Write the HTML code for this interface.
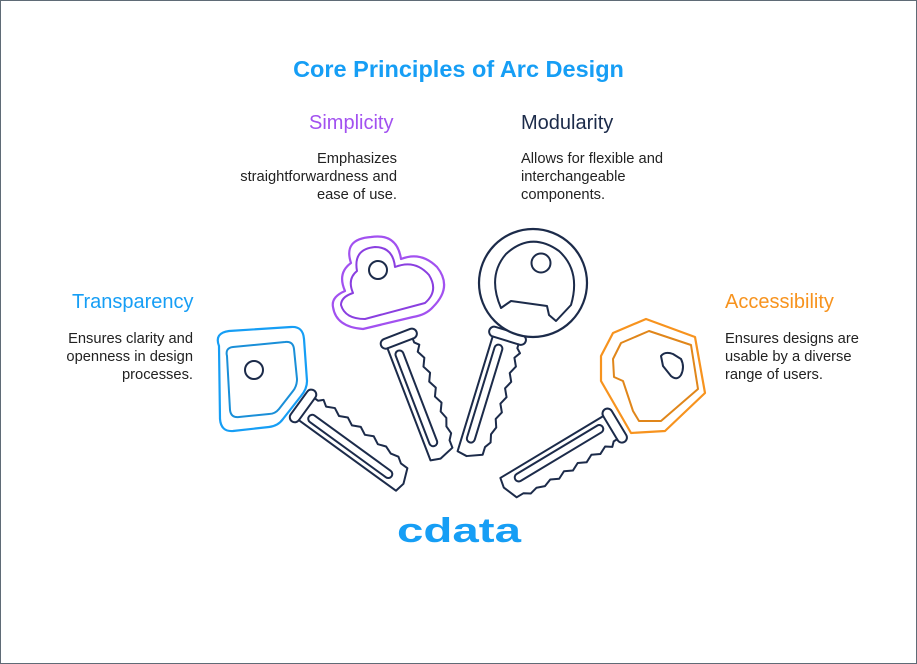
<!DOCTYPE html>
<html><head><meta charset="utf-8"><style>
html,body{margin:0;padding:0;background:#fff;}
#c{position:relative;width:915px;height:662px;border:1px solid #5f6b76;overflow:hidden;font-family:"Liberation Sans",Arial,sans-serif;}
.t{position:absolute;font-size:14.7px;line-height:18px;color:#222;}
.h{position:absolute;font-size:20px;}
</style></head><body><div id="c">
<div style="position:absolute;left:0;width:915px;top:55px;text-align:center;font-size:23.5px;font-weight:bold;color:#169ef5;">Core Principles of Arc Design</div>
<div class="h" style="left:308px;top:111px;color:#a251f0;">Simplicity</div>
<div class="t" style="left:206px;top:149px;width:190px;text-align:right;">Emphasizes straightforwardness and ease of use.</div>
<div class="h" style="left:520px;top:111px;color:#1c2b4a;">Modularity</div>
<div class="t" style="left:520px;top:149px;width:180px;">Allows for flexible and interchangeable components.</div>
<div class="h" style="left:71px;top:290px;color:#169ef5;">Transparency</div>
<div class="t" style="left:40px;top:329px;width:152px;text-align:right;">Ensures clarity and openness in design processes.</div>
<div class="h" style="left:724px;top:290px;color:#f7931e;">Accessibility</div>
<div class="t" style="left:724px;top:329px;width:150px;">Ensures designs are usable by a diverse range of users.</div>
<svg width="915" height="662" style="position:absolute;left:0;top:0" fill="none" stroke-linejoin="round" stroke-linecap="round">
<defs>
<g id="blade" stroke="#1c2b4a" stroke-width="2">
<rect x="0" y="-19" width="10" height="38" rx="5"/>
<path d="M10,-13 L14,-13 L18,-17 L24,-13 L32,-17 L40,-13 L48,-17 L56,-13 L64,-17 L72,-13 L80,-17 L88,-13 L96,-16 L104,-13 L112,-15 L118,-11 L126,-11 L132,4 L130,14 L10,14"/>
<rect x="16" y="1" width="102" height="8" rx="4"/>
</g>
</defs>
<g transform="translate(298,402) rotate(36)"><use href="#blade"/></g>
<path d="M218,345 Q213,332 228,330 L290,326 Q302,325 303,338 L306,380 Q306,388 300,395 L282,418 Q277,425 268,426 L232,430 Q220,431 219,418 Z" stroke="#169ef5" stroke-width="2.2" fill="#fff"/>
<path d="M226,355 Q224,347 232,346 L284,341 Q292,340 293,348 L296,378 Q296,385 292,390 L278,408 Q274,413 268,413 L238,416 Q230,417 229,409 Z" stroke="#1a8fd8" stroke-width="2"/>
<circle cx="253" cy="369" r="9" stroke="#1c2b4a" stroke-width="2"/>
<g transform="translate(396,333) rotate(69)"><use href="#blade"/></g>
<path d="M344,290 Q336,272 350,262 Q342,238 370,236 Q396,232 400,258 Q420,250 436,266 Q452,286 432,306 Q425,314 412,316 L362,328 Q335,326 332,306 Q330,296 344,290 Z" stroke="#a251f0" stroke-width="2.2" fill="#fff"/>
<path d="M352,292 Q346,278 356,270 Q352,248 374,246 Q392,246 394,266 Q414,258 428,274 Q438,290 424,302 L364,318 Q344,318 340,304 Q340,296 352,292 Z" stroke="#8a3fe0" stroke-width="2"/>
<circle cx="377" cy="269" r="9" stroke="#1c2b4a" stroke-width="2"/>
<g transform="translate(508,330) rotate(107)"><use href="#blade"/></g>
<circle cx="532" cy="282" r="54" stroke="#1c2b4a" stroke-width="2.2" fill="#fff"/>
<path d="M500,307 Q486,275 505,253 Q530,230 558,250 Q580,270 570,304 L555,320 L548,314 L546,305 L510,300 Z" stroke="#1c2b4a" stroke-width="2"/>
<circle cx="540" cy="262" r="9.5" stroke="#1c2b4a" stroke-width="2"/>
<g transform="translate(618,422) rotate(149)"><use href="#blade"/></g>
<path d="M600,355 L612,332 L645,318 L694,336 L704,392 L664,430 L630,432 L600,380 Z" stroke="#f7931e" stroke-width="2.2" fill="#fff"/>
<path d="M612,358 L620,342 L648,330 L690,344 L697,388 L660,420 L638,420 L632,410 L622,380 L613,376 Z" stroke="#e0861a" stroke-width="2"/>
<path d="M660,355 Q664,350 672,353 L680,358 Q684,366 680,374 Q676,380 670,375 L662,365 Z" stroke="#1c2b4a" stroke-width="2"/>
<text x="396" y="541" font-family="Liberation Sans, sans-serif" font-size="34" font-weight="bold" fill="#169ef5" stroke="none" textLength="124" lengthAdjust="spacingAndGlyphs">cdata</text>
</svg>
</div></body></html>
